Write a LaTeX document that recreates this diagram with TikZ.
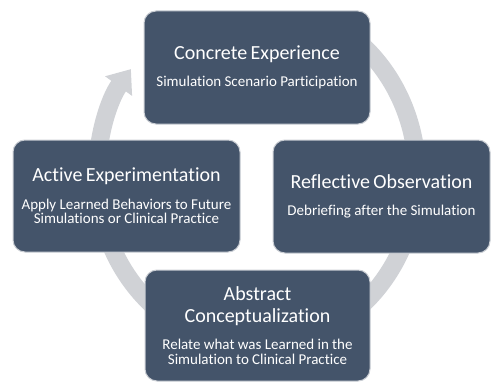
\documentclass[tikz,border=0pt]{standalone}
\usepackage{fontspec}
\setmainfont{Carlito}[Ligatures={NoCommon,NoRequired,NoContextual}]
\usepackage{tikz}
\usetikzlibrary{arrows.meta}

\definecolor{slateblue}{HTML}{44546A}
\definecolor{ringgray}{HTML}{D0D2D6}
\definecolor{rimgray}{HTML}{C9CDD3}

\newcommand{\stagetitle}[1]{{\fontsize{20}{21.5}\selectfont #1\par}\vspace{13pt}}
\newcommand{\stagetext}[1]{{\fontsize{15}{14.5}\selectfont #1\par}}

\tikzset{
  stage/.style={rectangle, rounded corners=12pt, fill=slateblue, draw=rimgray,
    line width=1pt, text=white, align=center, inner sep=0pt},
  cycle/.style={line width=18pt, color=ringgray,
    -{Triangle[width=32pt,length=21pt]}}
}

\begin{document}
\begin{tikzpicture}[x=1pt,y=1pt]
  \useasboundingbox (0,0) rectangle (492,381);
  %
  % THE CYCLE
  \draw[cycle] (257,206) ++(60:160 and 172) arc[start angle=60, end angle=-218, x radius=160, y radius=172];
  %
  % CONCRETE EXPERIENCE
  \node[stage, minimum width=226pt, minimum height=113pt, text width=220pt] (concrete) at (257,313.5)
    {\stagetitle{Concrete Experience}\stagetext{Simulation Scenario Participation}};
  % REFLECTIVE OBSERVATION
  \node[stage, minimum width=217pt, minimum height=113pt, text width=211pt] (reflective) at (381.5,184.5)
    {\stagetitle{Reflective Observation}\stagetext{Debriefing after the Simulation}};
  % ABSTRACT CONCEPTUALIZATION
  \node[stage, minimum width=225pt, minimum height=111pt, text width=219pt] (abstract) at (257.5,55.5)
    {\stagetitle{Abstract\\Conceptualization}\stagetext{Relate what was Learned in the\\Simulation to Clinical Practice}};
  % ACTIVE EXPERIMENTATION
  \node[stage, minimum width=227pt, minimum height=112pt, text width=221pt] (active) at (126.5,185)
    {\stagetitle{Active Experimentation}\stagetext{Apply Learned Behaviors to Future\\Simulations or Clinical Practice}};
  %
\end{tikzpicture}
\end{document}
